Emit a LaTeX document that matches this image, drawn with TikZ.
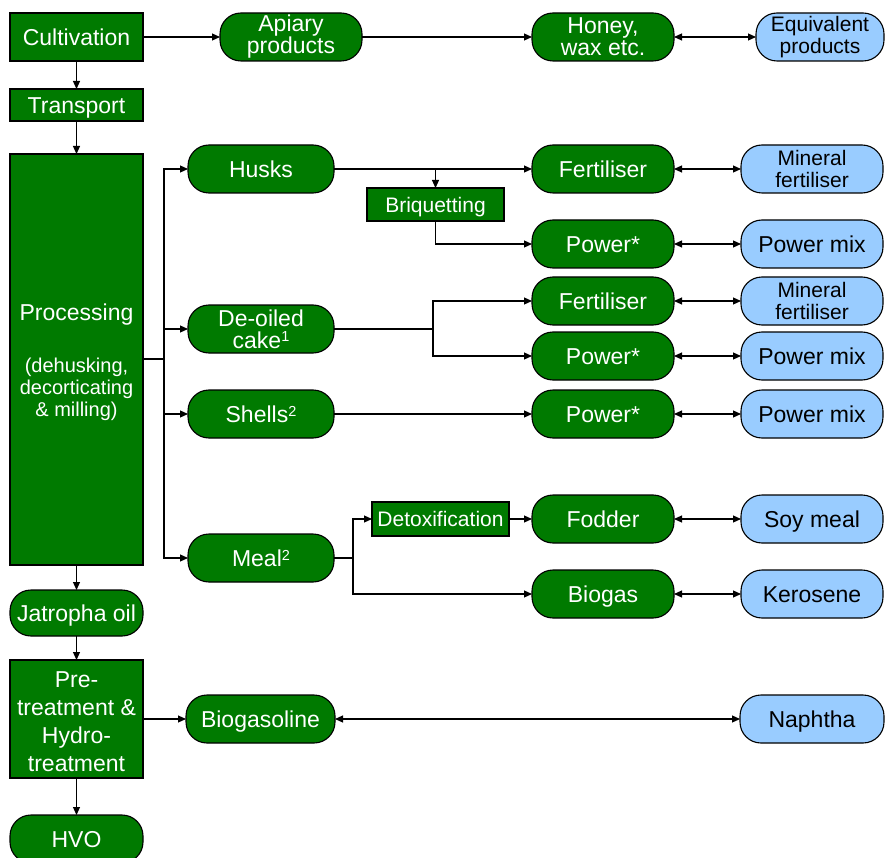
\documentclass[tikz,border=0pt]{standalone}
\usepackage{fontspec}
\setmainfont{Liberation Sans}
\usetikzlibrary{arrows.meta}
\definecolor{leaf}{RGB}{0,122,0}
\definecolor{sky}{RGB}{153,204,255}
\newcommand\procnote{\fontsize{20}{24}\selectfont}
\newcommand\supnum[1]{\raisebox{6.3pt}{\fontsize{14.5}{14}\selectfont #1}}
\begin{document}
\begin{tikzpicture}[x=1pt,y=-1pt,
  every node/.style={inner sep=0pt, outer sep=0pt, align=center,
    font=\fontsize{23}{22}\selectfont},
  oneline/.style={text height=17pt, text depth=0pt},
  smallline/.style={font=\fontsize{21}{22}\selectfont,
    text height=15.5pt, text depth=0pt},
  stepbox/.style={draw, line width=1.1pt, fill=leaf, text=white,
    minimum width=133pt},
  pill/.style={draw, line width=1.1pt, fill=leaf, text=white,
    rounded corners=21pt, minimum height=48pt, minimum width=142pt},
  altpill/.style={pill, fill=sky, text=black,
    font=\fontsize{21}{22}\selectfont},
  link/.style={line width=1.1pt, -{Triangle[length=8pt,width=7pt]}},
  both/.style={line width=1.1pt,
    {Triangle[length=8pt,width=7pt]}-{Triangle[length=8pt,width=7pt]}},
  plain/.style={line width=1.1pt}]
\useasboundingbox (0,0) rectangle (885,858);

% main chain on the left
\node[stepbox, oneline, minimum height=48pt] (cult) at (76.5,37) {Cultivation};
\node[stepbox, oneline, minimum height=32pt] (trans) at (76.5,105) {Transport};
\node[stepbox, minimum height=411pt] (proc) at (76.5,359.5)
  {\rule{0pt}{22pt}Processing\\[30pt]\procnote (dehusking,\\\procnote decorticating\\\procnote \& milling)};
\node[pill, oneline, minimum width=133pt, minimum height=46pt] (jat) at (76.5,613) {Jatropha oil};
\node[stepbox, minimum height=118pt, font=\fontsize{23}{28}\selectfont] (pre) at (76.5,719)
  {\rule{0pt}{21pt}Pre-\\treatment \&\\Hydro-\\treatment};
\node[pill, oneline, minimum width=133pt] (hvo) at (76.5,839) {HVO};

% apiary branch
\node[pill] (api) at (291,37) {Apiary\\products};
\node[pill] (honey) at (603,37) {Honey,\\wax etc.};
\node[altpill, minimum width=128pt] (equiv) at (820,37) {Equivalent\\products};

% by-products of processing
\node[pill, oneline, minimum width=146pt] (husks) at (261,169) {Husks};
\node[pill, minimum width=146pt] (deoil) at (261,329) {De-oiled\\cake\supnum{1}};
\node[pill, oneline, minimum width=146pt] (shells) at (261,414) {Shells\supnum{2}};
\node[pill, oneline, minimum width=146pt] (meal) at (261,558) {Meal\supnum{2}};

\node[stepbox, smallline, minimum width=137pt, minimum height=33pt] (briq) at (435.5,204.5) {Briquetting};
\node[stepbox, smallline, minimum width=137pt, minimum height=34pt] (detox) at (440.5,519) {Detoxification};

% products
\node[pill, oneline] (fert1) at (603,169) {Fertiliser};
\node[pill, oneline] (pow1) at (603,244) {Power*};
\node[pill, oneline] (fert2) at (603,301) {Fertiliser};
\node[pill, oneline] (pow2) at (603,356) {Power*};
\node[pill, oneline] (pow3) at (603,414) {Power*};
\node[pill, oneline] (fodder) at (603,519) {Fodder};
\node[pill, oneline] (biogas) at (603,594) {Biogas};
\node[pill, oneline, minimum width=149pt] (bgsl) at (260.5,719) {Biogasoline};

% substituted products
\node[altpill] (min1) at (812,169) {Mineral\\fertiliser};
\node[altpill, font=\fontsize{23}{22}\selectfont, oneline] (pmix1) at (812,244) {Power mix};
\node[altpill] (min2) at (812,301) {Mineral\\fertiliser};
\node[altpill, font=\fontsize{23}{22}\selectfont, oneline] (pmix2) at (812,356) {Power mix};
\node[altpill, font=\fontsize{23}{22}\selectfont, oneline] (pmix3) at (812,414) {Power mix};
\node[altpill, font=\fontsize{23}{22}\selectfont, oneline] (soy) at (812,519) {Soy meal};
\node[altpill, font=\fontsize{23}{22}\selectfont, oneline] (kero) at (812,594) {Kerosene};
\node[altpill, font=\fontsize{23}{22}\selectfont, oneline, minimum width=144pt] (naph) at (812,719) {Naphtha};

% junction points
\coordinate (bus) at (164,359);
\coordinate (cakesplit) at (433,329);
\coordinate (mealsplit) at (353,558);

% connectors
\draw[link] (cult) -- (trans);
\draw[link] (trans) -- (proc);
\draw[link] (proc) -- (jat);
\draw[link] (jat) -- (pre);
\draw[link] (pre) -- (hvo);
\draw[link] (cult) -- (api);
\draw[link] (api) -- (honey);
\draw[both] (honey) -- (equiv);

\draw[plain] (proc.east |- bus) -- (bus);
\draw[link] (bus) |- (husks.west);
\draw[link] (bus) |- (deoil.west);
\draw[link] (bus) |- (shells.west);
\draw[link] (bus) |- (meal.west);

\draw[link] (husks) -- (fert1);
\draw[link] (husks.east -| briq.north) -- (briq.north);
\draw[link] (briq.south) |- (pow1.west);

\draw[plain] (deoil.east) -- (cakesplit);
\draw[link] (cakesplit) |- (fert2.west);
\draw[link] (cakesplit) |- (pow2.west);

\draw[link] (shells) -- (pow3);

\draw[plain] (meal.east) -- (mealsplit);
\draw[link] (mealsplit) |- (detox.west);
\draw[link] (mealsplit) |- (biogas.west);
\draw[link] (detox) -- (fodder);

\draw[link] (pre.east |- bgsl) -- (bgsl);
\draw[both] (bgsl) -- (naph);

\draw[both] (fert1) -- (min1);
\draw[both] (pow1) -- (pmix1);
\draw[both] (fert2) -- (min2);
\draw[both] (pow2) -- (pmix2);
\draw[both] (pow3) -- (pmix3);
\draw[both] (fodder) -- (soy);
\draw[both] (biogas) -- (kero);
\end{tikzpicture}
\end{document}
